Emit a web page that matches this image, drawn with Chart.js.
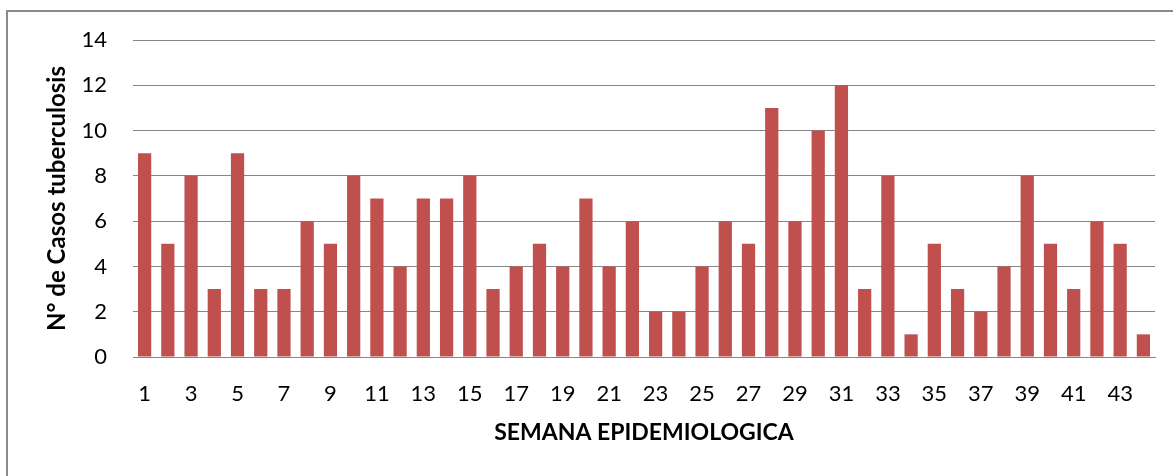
<!DOCTYPE html>
<html>
<head>
<meta charset="utf-8">
<script src="https://cdn.jsdelivr.net/npm/chart.js@4/dist/chart.umd.min.js"></script>
<style>
  html, body { margin: 0; padding: 0; background: #fff; overflow: hidden; }
  #wrap { position: relative; width: 1173px; height: 476px; }
  #frame { position: absolute; left: 6px; top: 10px; width: 1200px; height: 500px; border: 2px solid #8a8a8a; box-sizing: border-box; }
  canvas { position: absolute; left: 0; top: 0; }
</style>
</head>
<body>
<div id="wrap">
  <div id="frame"></div>
  <canvas id="c" width="1173" height="476"></canvas>
</div>
<script>
const weeks = [1,2,3,4,5,6,7,8,9,10,11,12,13,14,15,16,17,18,19,20,21,22,23,24,25,26,27,28,29,30,31,32,33,34,35,36,37,38,39,40,41,42,43,44];
const cases = [9,5,8,3,9,3,3,6,5,8,7,4,7,7,8,3,4,5,4,7,4,6,2,2,4,6,5,11,6,10,12,3,8,1,5,3,2,4,8,5,3,6,5,1];
const yTicks = [0,2,4,6,8,10,12,14];
const xTitle = 'SEMANA EPIDEMIOLOGICA';
const yTitle = 'N° de Casos tuberculosis';

const FONT = 'Lato';
new Chart(document.getElementById('c'), {
  type: 'bar',
  data: {
    labels: weeks.map(String),
    datasets: [{
      data: cases,
      backgroundColor: '#C0504D',
      borderWidth: 0,
      categoryPercentage: 1.0,
      barPercentage: 0.57
    }]
  },
  options: {
    responsive: false,
    animation: false,
    layout: { padding: { top: 40, right: 18, left: 0, bottom: 0 } },
    plugins: { legend: { display: false }, tooltip: { enabled: false } },
    scales: {
      x: {
        grid: { display: false, drawTicks: false },
        border: { display: true, color: '#868686', width: 1 },
        ticks: {
          autoSkip: false, maxRotation: 0, padding: 24,
          color: '#000', font: { family: FONT, size: 22 },
          callback: function(v, i) { return i % 2 === 0 ? this.getLabelForValue(v) : ''; }
        },
        title: { display: true, text: xTitle, color: '#000', font: { family: FONT, size: 23, weight: 'bold' }, padding: { top: 0, bottom: 30 } },
        afterFit: s => { s.height = 119; }
      },
      y: {
        min: 0, max: 14,
        afterBuildTicks: s => { s.ticks = yTicks.map(v => ({ value: v })); },
        grid: { color: '#868686', lineWidth: 1, drawTicks: false },
        border: { display: false },
        ticks: { padding: 26, color: '#000', font: { family: FONT, size: 22 } },
        title: { display: true, text: yTitle, color: '#000', font: { family: FONT, size: 24, weight: 'bold' }, padding: { top: 43, bottom: 0 } },
        afterFit: s => { s.width = 133; }
      }
    }
  }
});
</script>
</body>
</html>
